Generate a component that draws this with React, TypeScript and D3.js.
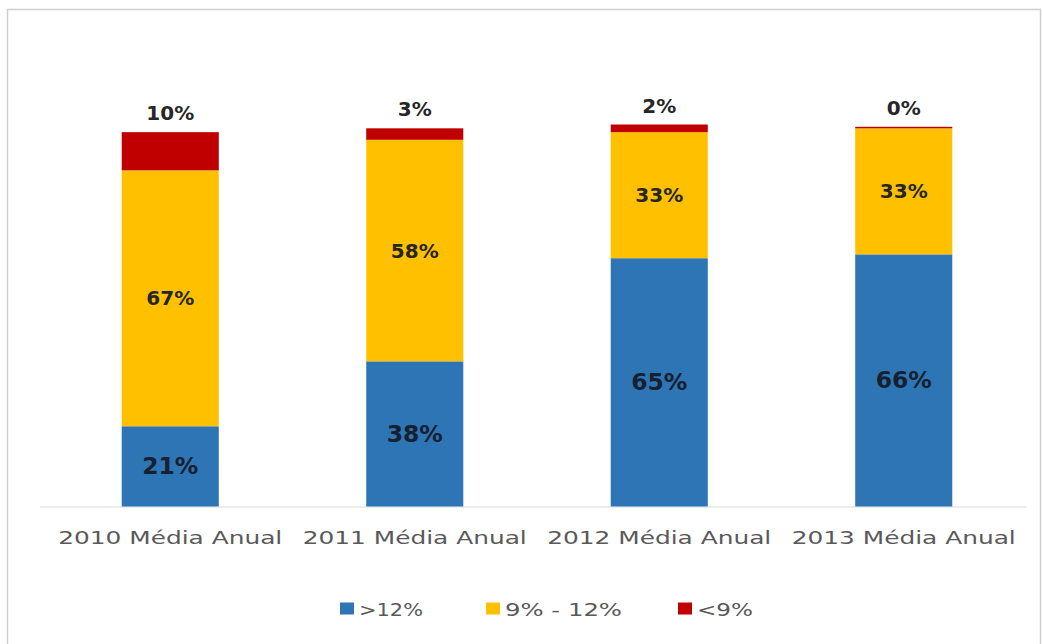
import React from "react";
import * as d3 from "d3";

const categories = ["2010 Média Anual", "2011 Média Anual", "2012 Média Anual", "2013 Média Anual"];
const seriesNames = [">12%", "9% - 12%", "<9%"];
const above12 = [21, 38, 65, 66];
const between9and12 = [67, 58, 33, 33];
const below9 = [10, 3, 2, 0.4];
const seriesColors = ["#2E75B6", "#FFC000", "#C00000"];

const W = 1042;
const H = 644;
const plot = { left: 48, right: 1026, top: 124.5, bottom: 506.5 };
const legendX = [340, 486, 678];
const legendTextW = [64, 117, 56];

export default function App() {
  const x = d3
    .scaleBand<string>()
    .domain(categories)
    .range([plot.left, plot.right])
    .paddingInner(0.603)
    .paddingOuter(0.3015);
  const y = d3.scaleLinear().domain([0, 100]).range([plot.bottom, plot.top]);

  const rows = categories.map((c, i) => ({
    cat: c,
    s0: above12[i],
    s1: between9and12[i],
    s2: below9[i],
  }));
  const stacked = d3.stack<any>().keys(["s0", "s1", "s2"])(rows);

  const font = "'DejaVu Sans', Verdana, sans-serif";

  return (
    <svg
      width={W}
      height={H}
      style={{ position: "absolute", left: 0, top: 0, background: "#fff" }}
    >
      <rect x={7.5} y={9.5} width={1033} height={640} fill="#fff" stroke="#cfcfcf" strokeWidth={1.5} />
      <line x1={40} x2={plot.right} y1={plot.bottom + 0.5} y2={plot.bottom + 0.5} stroke="#d9d9d9" strokeWidth={1.2} />
      {stacked.map((layer, si) => (
        <g key={si}>
          {layer.map((d, ci) => {
            const y0 = y(d[0]);
            const y1 = y(d[1]);
            const bx = x(categories[ci])!;
            return (
              <rect
                key={ci}
                x={bx}
                y={y1}
                width={x.bandwidth()}
                height={Math.max(0, y0 - y1)}
                fill={seriesColors[si]}
              />
            );
          })}
        </g>
      ))}
      {stacked.map((layer, si) => (
        <g key={"l" + si}>
          {layer.map((d, ci) => {
            const y0 = y(d[0]);
            const y1 = y(d[1]);
            const cx = x(categories[ci])! + x.bandwidth() / 2;
            const v = Math.round(d[1] - d[0]);
            const cy = si === 2 ? y1 - 19 : (y0 + y1) / 2;
            return (
              <text
                key={ci}
                x={cx}
                y={cy}
                textAnchor="middle"
                dominantBaseline="central"
                fontFamily={font}
                fontWeight="bold"
                fontSize={si === 0 ? 23.5 : 20}
                fill={si === 0 ? "#17202e" : "#262626"}
              >
                {v}%
              </text>
            );
          })}
        </g>
      ))}
      {categories.map((c) => (
        <text
          key={c}
          x={x(c)! + x.bandwidth() / 2}
          y={537}
          textAnchor="middle"
          dominantBaseline="central"
          fontFamily={font}
          fontSize={18.5}
          fill="#595959"
          textLength={224}
          lengthAdjust="spacingAndGlyphs"
        >
          {c}
        </text>
      ))}
      {seriesNames.map((n, i) => (
        <g key={n}>
          <rect x={legendX[i]} y={602.5} width={14} height={12} fill={seriesColors[i]} />
          <text
            x={legendX[i] + 19}
            y={609}
            dominantBaseline="central"
            fontFamily={font}
            fontSize={18.5}
            fill="#595959"
            textLength={legendTextW[i]}
            lengthAdjust="spacingAndGlyphs"
          >
            {n}
          </text>
        </g>
      ))}
    </svg>
  );
}
